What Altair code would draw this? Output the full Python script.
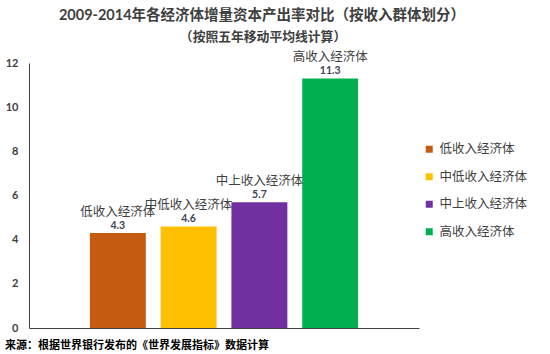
import altair as alt
import pandas as pd

categories = ["低收入经济体", "中低收入经济体", "中上收入经济体", "高收入经济体"]
values = [4.3, 4.6, 5.7, 11.3]
colors = ["#C55A11", "#FFC000", "#7030A0", "#00B050"]
y_ticks = [0, 2, 4, 6, 8, 10, 12]

title_text = "2009-2014年各经济体增量资本产出率对比（按收入群体划分）"
subtitle_text = "（按照五年移动平均线计算）"
footer_text = "来源：根据世界银行发布的《世界发展指标》数据计算"

df = pd.DataFrame({"cat": categories, "val": values})

FONT = "Lato, 'Noto Sans CJK SC', sans-serif"
CJK = "'Noto Sans CJK SC', sans-serif"
TXT = "#404040"

x_enc = alt.X("cat:N", sort=categories,
              scale=alt.Scale(paddingInner=0.21, paddingOuter=0.86),
              axis=alt.Axis(labels=False, ticks=False, title=None, domainColor=TXT, domainWidth=1))
y_enc = alt.Y("val:Q", scale=alt.Scale(domain=[0, 12], nice=False),
              axis=alt.Axis(values=y_ticks, grid=False, ticks=False, title=None,
                            domainColor=TXT, labelFont=FONT, labelFontWeight="bold",
                            labelFontSize=11, labelColor=TXT, labelPadding=11))

base = alt.Chart(df)

bars = base.mark_bar().encode(
    x=x_enc, y=y_enc,
    color=alt.Color("cat:N", sort=categories,
                    scale=alt.Scale(domain=categories, range=colors),
                    legend=alt.Legend(title=None, orient="none", legendX=394, legendY=80,
                                      symbolType="square", symbolSize=49, symbolStrokeWidth=0,
                                      labelFont=CJK, labelFontSize=12.5, labelColor=TXT,
                                      labelOffset=4, rowPadding=14.5, padding=0))
)

cat_text = base.mark_text(dy=-17, font=CJK, fontSize=12.5, color=TXT, baseline="alphabetic").encode(
    x=alt.X("cat:N", sort=categories), y="val:Q", text="cat:N")

val_text = base.mark_text(dy=-4, font=FONT, fontSize=10.5, fontWeight="bold", color="#3f4458",
                          baseline="alphabetic").encode(
    x=alt.X("cat:N", sort=categories), y="val:Q", text=alt.Text("val:Q", format=".1f"))

title_df = pd.DataFrame({"t": [title_text]})
sub_df = pd.DataFrame({"t": [subtitle_text]})
foot_df = pd.DataFrame({"t": [footer_text]})

title = alt.Chart(title_df).mark_text(font=FONT, fontSize=14.5, fontWeight="bold", color=TXT,
                                      align="center", baseline="alphabetic").encode(
    x=alt.value(233), y=alt.value(-43), text="t:N")
subtitle = alt.Chart(sub_df).mark_text(font=CJK, fontSize=12.8, fontWeight="bold", color=TXT,
                                       align="center", baseline="alphabetic").encode(
    x=alt.value(234), y=alt.value(-22), text="t:N")
footer = alt.Chart(foot_df).mark_text(font=CJK, fontSize=11, fontWeight="bold", color="#000000",
                                      align="left", baseline="alphabetic").encode(
    x=alt.value(-24), y=alt.value(286), text="t:N")

chart = alt.layer(bars, cat_text, val_text, title, subtitle, footer).properties(
    width=390, height=265,
    autosize=alt.AutoSizeParams(type="none"),
    padding={"left": 29, "top": 63, "right": 131, "bottom": 26},
    background="white",
).configure_view(stroke=None)

chart.save("out.html", embed_options={"renderer": "svg", "actions": False})
